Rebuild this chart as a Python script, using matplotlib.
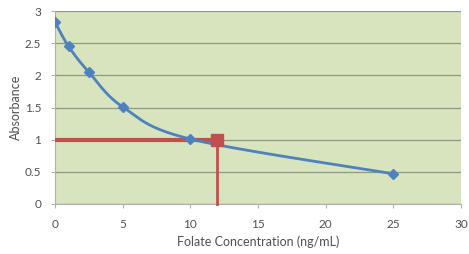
import numpy as np
import matplotlib
matplotlib.use('Agg')
import matplotlib.pyplot as plt

# standard curve readings
conc = [0, 1, 2.5, 5, 10, 25]
absorb = [2.83, 2.45, 2.05, 1.51, 1.01, 0.47]
# sample reading
sample_conc = 12
sample_abs = 1.0

x_ticks = [0, 5, 10, 15, 20, 25, 30]
y_ticks = [0, 0.5, 1, 1.5, 2, 2.5, 3]
y_tick_labels = ['0', '0.5', '1', '1.5', '2', '2.5', '3']


def smooth_curve(xs, ys, n=40):
    # Excel-style smoothed line: cubic bezier with catmull-rom control points
    xs = np.asarray(xs, float)
    ys = np.asarray(ys, float)
    px = np.concatenate([[xs[0]], xs, [xs[-1]]])
    py = np.concatenate([[ys[0]], ys, [ys[-1]]])
    out_x, out_y = [], []
    t = np.linspace(0, 1, n)
    for i in range(1, len(px) - 2):
        p0 = np.array([px[i], py[i]])
        p3 = np.array([px[i + 1], py[i + 1]])
        c1 = p0 + (np.array([px[i + 1], py[i + 1]]) - np.array([px[i - 1], py[i - 1]])) / 6
        c2 = p3 - (np.array([px[i + 2], py[i + 2]]) - np.array([px[i], py[i]])) / 6
        b = ((1 - t)[:, None] ** 3 * p0 + 3 * ((1 - t) ** 2 * t)[:, None] * c1
             + 3 * ((1 - t) * t ** 2)[:, None] * c2 + (t ** 3)[:, None] * p3)
        out_x.extend(b[:, 0])
        out_y.extend(b[:, 1])
    return out_x, out_y


plt.rcParams['font.family'] = ['Lato', 'DejaVu Sans']

fig = plt.figure(figsize=(4.69, 2.54), dpi=100)
ax = fig.add_axes([55 / 469, 50 / 254, 406 / 469, 193 / 254])
ax.set_facecolor('#d7e4bd')

ax.set_xlim(0, 30)
ax.set_ylim(0, 3)
ax.set_xticks(x_ticks)
ax.set_yticks(y_ticks)
ax.set_yticklabels(y_tick_labels)
ax.grid(axis='y', color='#8e9a84', linewidth=0.9)
ax.set_axisbelow(True)
for s in ['top', 'right']:
    ax.spines[s].set_visible(False)
for s in ['left', 'bottom']:
    ax.spines[s].set_color('#b0b0b0')
ax.tick_params(colors='#b0b0b0', labelcolor='#505050', labelsize=8.5, length=3)
ax.tick_params(axis='x', pad=8)
ax.tick_params(axis='y', pad=7)

# red lines marking the sample
ax.plot([0, sample_conc], [sample_abs, sample_abs], color='#c0504d', linewidth=3, zorder=3)
ax.plot([sample_conc, sample_conc], [sample_abs, 0], color='#c0504d', linewidth=2,
        zorder=3, clip_on=False)
ax.plot([sample_conc], [sample_abs], marker='s', markersize=8, color='#c0504d', zorder=5)

sx, sy = smooth_curve(conc, absorb)
ax.plot(sx, sy, color='#4f81bd', linewidth=2, zorder=4)
ax.plot(conc, absorb, linestyle='none', marker='D', markersize=5.5, color='#4f81bd', zorder=4)

ax.set_xlabel('Folate Concentration (ng/mL)', fontsize=9, color='#505050', labelpad=4)
ax.set_ylabel('Absorbance', fontsize=9, color='#505050', labelpad=2)

fig.savefig('out.png', dpi=100)
